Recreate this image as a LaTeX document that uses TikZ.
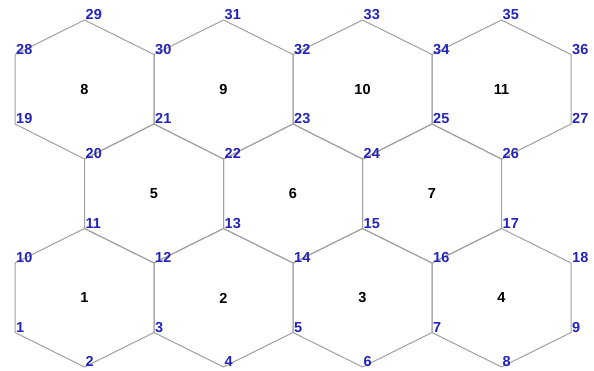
\documentclass[tikz,border=0pt]{standalone}
\usepackage{fontspec}
\setmainfont{Liberation Sans}
\definecolor{edgegray}{RGB}{160,160,160}
\definecolor{vblue}{RGB}{35,35,185}
\begin{document}
\begin{tikzpicture}[x=1pt,y=-1pt,
  edge/.style={draw=edgegray,line width=1pt,line join=round},
  vlabel/.style={anchor=south west,inner sep=0pt,xshift=1pt,text=vblue,font=\bfseries\fontsize{14.5}{14.5}\selectfont},
  hlabel/.style={inner sep=0pt,font=\bfseries\fontsize{14.5}{14.5}\selectfont}]
\useasboundingbox (0,0) rectangle (594,371);
% columns c0..c8 : 15 84.5 154 223.5 293 362.5 432 501.5 571
% levels L0..L7 : 20 54.5 124 159 228.5 263 332.5 367
\coordinate (p1) at (15,332.5);
\coordinate (p2) at (84.5,367);
\coordinate (p3) at (154,332.5);
\coordinate (p4) at (223.5,367);
\coordinate (p5) at (293,332.5);
\coordinate (p6) at (362.5,367);
\coordinate (p7) at (432,332.5);
\coordinate (p8) at (501.5,367);
\coordinate (p9) at (571,332.5);
\coordinate (p10) at (15,263);
\coordinate (p11) at (84.5,228.5);
\coordinate (p12) at (154,263);
\coordinate (p13) at (223.5,228.5);
\coordinate (p14) at (293,263);
\coordinate (p15) at (362.5,228.5);
\coordinate (p16) at (432,263);
\coordinate (p17) at (501.5,228.5);
\coordinate (p18) at (571,263);
\coordinate (p19) at (15,124);
\coordinate (p20) at (84.5,159);
\coordinate (p21) at (154,124);
\coordinate (p22) at (223.5,159);
\coordinate (p23) at (293,124);
\coordinate (p24) at (362.5,159);
\coordinate (p25) at (432,124);
\coordinate (p26) at (501.5,159);
\coordinate (p27) at (571,124);
\coordinate (p28) at (15,54.5);
\coordinate (p29) at (84.5,20);
\coordinate (p30) at (154,54.5);
\coordinate (p31) at (223.5,20);
\coordinate (p32) at (293,54.5);
\coordinate (p33) at (362.5,20);
\coordinate (p34) at (432,54.5);
\coordinate (p35) at (501.5,20);
\coordinate (p36) at (571,54.5);
% hexagon outlines
\draw[edge] (p1) -- (p2) -- (p3) -- (p12) -- (p11) -- (p10) -- cycle;
\draw[edge] (p3) -- (p4) -- (p5) -- (p14) -- (p13) -- (p12) -- cycle;
\draw[edge] (p5) -- (p6) -- (p7) -- (p16) -- (p15) -- (p14) -- cycle;
\draw[edge] (p7) -- (p8) -- (p9) -- (p18) -- (p17) -- (p16) -- cycle;
\draw[edge] (p11) -- (p12) -- (p13) -- (p22) -- (p21) -- (p20) -- cycle;
\draw[edge] (p13) -- (p14) -- (p15) -- (p24) -- (p23) -- (p22) -- cycle;
\draw[edge] (p15) -- (p16) -- (p17) -- (p26) -- (p25) -- (p24) -- cycle;
\draw[edge] (p19) -- (p20) -- (p21) -- (p30) -- (p29) -- (p28) -- cycle;
\draw[edge] (p21) -- (p22) -- (p23) -- (p32) -- (p31) -- (p30) -- cycle;
\draw[edge] (p23) -- (p24) -- (p25) -- (p34) -- (p33) -- (p32) -- cycle;
\draw[edge] (p25) -- (p26) -- (p27) -- (p36) -- (p35) -- (p34) -- cycle;
% vertex labels
\foreach \n in {1,...,36} {\node[vlabel] (v\n) at (p\n) {\n};}
% hexagon labels
\node[hlabel] (h1) at (84.5,298) {1};
\node[hlabel] (h2) at (223.5,298) {2};
\node[hlabel] (h3) at (362.5,298) {3};
\node[hlabel] (h4) at (501.5,298) {4};
\node[hlabel] (h5) at (154,194) {5};
\node[hlabel] (h6) at (293,194) {6};
\node[hlabel] (h7) at (432,194) {7};
\node[hlabel] (h8) at (84.5,89.5) {8};
\node[hlabel] (h9) at (223.5,89.5) {9};
\node[hlabel] (h10) at (362.5,89.5) {10};
\node[hlabel] (h11) at (501.5,89.5) {11};
\end{tikzpicture}
\end{document}
